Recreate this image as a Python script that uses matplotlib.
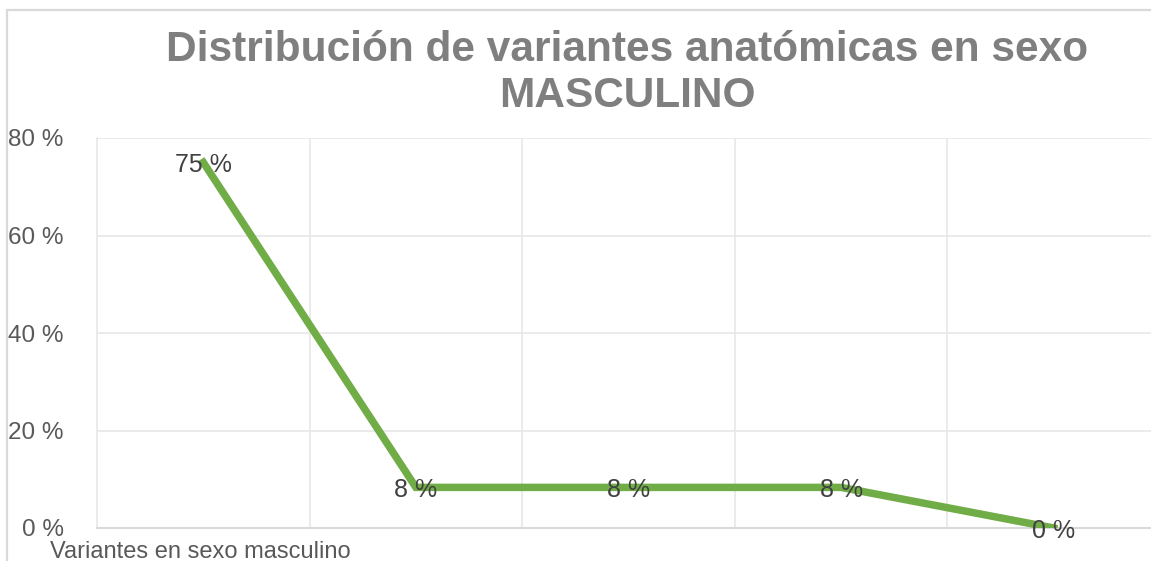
import numpy as np
import matplotlib.pyplot as plt
from matplotlib.patches import Rectangle
from matplotlib.ticker import FuncFormatter, MultipleLocator

plt.rcParams['font.family'] = ['Liberation Sans', 'DejaVu Sans']

categorias = ["Variante 1", "Variante 2", "Variante 3", "Variante 4", "Variante 5"]
porcentajes = [75.0, 8.33, 8.33, 8.33, 0.0]
etiquetas = ["75 %", "8 %", "8 %", "8 %", "0 %"]
serie = "Variantes en sexo masculino"
titulo = "Distribución de variantes anatómicas en sexo\nMASCULINO"

fig = plt.figure(figsize=(11.51, 5.61), dpi=100)
W, H = 1151, 561

# chart border (cut off at right and bottom like the original)
fig.patches.append(Rectangle((7.5 / W, -0.5), 1.5, 1.5 - 9.5 / H, transform=fig.transFigure,
                             fill=False, edgecolor='#d9d9d9', lw=1.6))

ax = fig.add_axes([97 / W, 1 - 528 / H, (1160 - 97) / W, (528 - 138) / H])

x = np.arange(len(categorias))
ax.plot(x, porcentajes, color='#70ad47', lw=5.4, solid_joinstyle='miter', zorder=3)
for xi, yi, lab in zip(x, porcentajes, etiquetas):
    ax.text(xi, yi, lab, ha='center', va='center_baseline', fontsize=18, color='#404040', zorder=4)

ax.set_xlim(-0.5, len(categorias) - 0.5)
ax.set_ylim(0, 80)
ax.yaxis.set_major_locator(MultipleLocator(20))
ax.yaxis.set_major_formatter(FuncFormatter(lambda v, p: f"{v:.0f} %"))
ax.set_xticks(x + 0.5)
ax.set_xticklabels([])
ax.tick_params(length=0, labelsize=17.5, labelcolor='#595959', pad=24)
for lab in ax.get_yticklabels():
    lab.set_horizontalalignment('right')
ax.grid(True, color='#e8e8e8', lw=1.2)
ax.set_axisbelow(True)
for s in ['top', 'right']:
    ax.spines[s].set_visible(False)
ax.spines['left'].set_color('#e8e8e8')
ax.spines['left'].set_linewidth(1.2)
ax.spines['bottom'].set_color('#d9d9d9')
ax.spines['bottom'].set_linewidth(1.5)

fig.text(0.5 + 52 / W, 1 - 73 / H, titulo, ha='center', va='center', fontsize=30.5,
         fontweight='bold', color='#7f7f7f', linespacing=1.22)
fig.text(50 / W, 1 - 552 / H, serie, ha='left', va='center', fontsize=17, color='#595959')

fig.savefig('out.png', dpi=100)
